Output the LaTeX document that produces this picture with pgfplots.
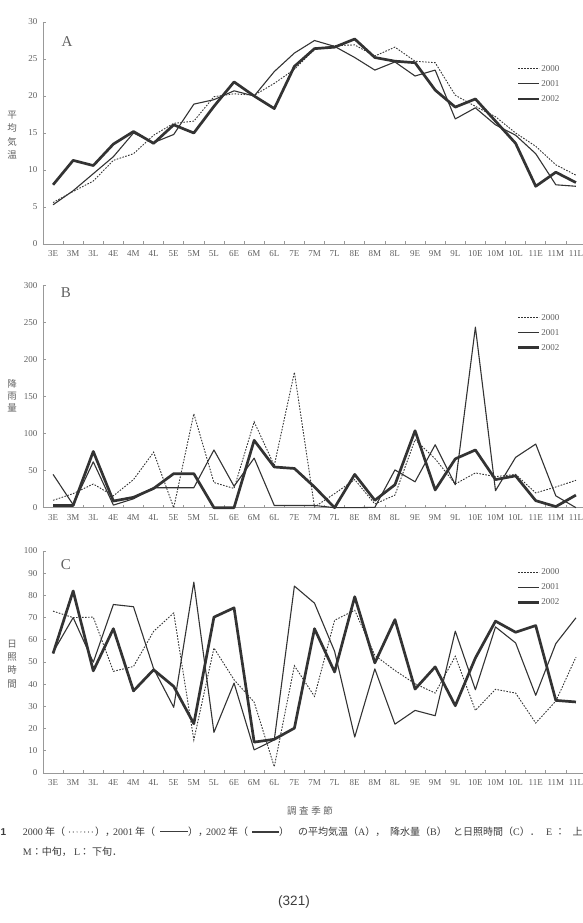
\documentclass[border=0pt]{standalone}
\usepackage{fontspec}
\setmainfont{Liberation Serif}
\newfontfamily\jp{Noto Sans CJK JP}
\newfontfamily\sans{Liberation Sans}
\usepackage{pgfplots}
\usepackage{pgfplotstable}
\pgfplotsset{compat=1.18}

\definecolor{axisgray}{HTML}{999999}
\definecolor{labelgray}{HTML}{606060}
\definecolor{linedark}{HTML}{333333}
\definecolor{captext}{HTML}{3C3C3C}

% Ten-day periods (E: early, M: middle, L: late), March to November
% Mean air temperature
\pgfplotstableread{
i  y2000 y2001 y2002
0  5.6   5.3   8.0
1  7.1   7.2   11.3
2  8.5   9.5   10.6
3  11.3  11.8  13.5
4  12.2  15.0  15.2
5  14.7  13.7  13.6
6  16.3  14.8  16.1
7  16.6  18.9  15.0
8  19.9  19.5  18.6
9  20.3  20.7  21.9
10 20.1  20.0  20.0
11 21.7  23.3  18.3
12 23.6  25.8  24.0
13 26.3  27.5  26.4
14 26.8  26.7  26.6
15 26.9  25.2  27.7
16 25.4  23.5  25.2
17 26.6  24.6  24.7
18 24.7  22.7  24.5
19 24.5  23.5  20.8
20 20.1  16.9  18.5
21 18.6  18.4  19.6
22 17.2  16.1  16.6
23 15.0  14.7  13.6
24 13.2  12.2  7.8
25 10.7  8.0   9.7
26 9.3   7.8   8.3
}\tempdata

% Rainfall
\pgfplotstableread{
i  y2000 y2001 y2002
0  10    45    3
1  19    4     3
2  32    62    76
3  16    3.5   9
4  38    12    14
5  75    27    26
6  0     27    46
7  127   27    46
8  34    78    0
9  26    29    0
10 116   67    91
11 57    3     55
12 183   3     53
13 1     3     28
14 19    0     0
15 38    0     45
16 5     0.5   10
17 17    51    31
18 92    35    104
19 66    85    24
20 32    31    66
21 47    244   78
22 42    23    38
23 45    68    43
24 20    86    9.5
25 28    16    1.5
26 37    0     17
}\raindata

% Sunshine duration
\pgfplotstableread{
i  y2000 y2001 y2002
0  72.9  54.4  53.8
1  70.0  70.0  82.0
2  70.2  49.9  46.0
3  45.8  75.9  65.0
4  48.0  74.9  37.0
5  63.8  47.0  46.5
6  72.1  29.6  39.0
7  14.9  86.0  22.2
8  56.3  18.3  70.2
9  42.0  40.5  74.4
10 31.9  10.4  13.9
11 2.8   14.9  15.2
12 48.3  84.2  20.2
13 34.5  76.5  65.0
14 68.8  54.8  45.5
15 73.3  16.2  79.4
16 53.0  46.9  49.6
17 46.2  22.0  69.1
18 40.2  28.2  37.8
19 36.0  25.8  47.8
20 52.6  63.9  30.3
21 28.2  37.5  51.8
22 37.7  65.8  68.4
23 36.0  58.6  63.4
24 22.5  35.0  66.4
25 32.4  58.3  32.7
26 52.2  69.9  32.0
}\sundata

\pgfplotsset{
  season/.style={
    scale only axis, width=543pt, height=222pt,
    anchor=south west,
    axis x line=bottom, axis y line=left,
    axis line style={-, draw=axisgray, line width=0.9pt},
    xmin=-0.5, xmax=26.5,
    xtick={-0.5,0.5,...,26.5},
    x tick label as interval,
    xticklabels={3E,3M,3L,4E,4M,4L,5E,5M,5L,6E,6M,6L,7E,7M,7L,8E,8M,8L,9E,9M,9L,10E,10M,10L,11E,11M,11L},
    tick align=inside, major tick length=3pt,
    tick style={draw=axisgray, line width=0.6pt},
    ticklabel style={font=\fontsize{9}{10}\selectfont, text=labelgray},
    /pgf/number format/assume math mode=true,
    xticklabel style={yshift=-3pt},
    yticklabel style={xshift=-2pt},
    clip=false,
    legend cell align=left,
    legend style={draw=none, fill=none, anchor=north west, inner sep=0pt,
      font=\fontsize{9}{10}\selectfont, text=labelgray,
      nodes={inner sep=1pt, text height=6pt, text depth=1pt},
      row sep=6pt},
    legend image code/.code={\draw[##1] (0pt,0pt) -- (21pt,0pt);},
  },
  s2000/.style={color=linedark, line width=0.9pt, dash pattern=on 1.6pt off 1.4pt},
  s2001/.style={color=linedark, line width=1.1pt, line join=round},
  s2002/.style={color=linedark, line width=2.7pt, line join=round},
}

\begin{document}
\begin{tikzpicture}[x=1pt,y=1pt]
\path[use as bounding box] (0,0) rectangle (583,923);

% A: mean air temperature
\begin{axis}[season, at={(43pt,679pt)},
  ymin=0, ymax=30, ytick={0,5,...,30},
  legend style={at={(0.872,0.81)}}]
  \addplot[s2000] table[x=i,y=y2000]{\tempdata};
  \addlegendentry{2000}
  \addplot[s2001] table[x=i,y=y2001]{\tempdata};
  \addlegendentry{2001}
  \addplot[s2002] table[x=i,y=y2002]{\tempdata};
  \addlegendentry{2002}
\end{axis}

% B: rainfall
\begin{axis}[season, at={(43pt,415.3pt)},
  ymin=0, ymax=300, ytick={0,50,...,300},
  legend style={at={(0.872,0.877)}}]
  \addplot[s2000] table[x=i,y=y2000]{\raindata};
  \addlegendentry{2000}
  \addplot[s2001] table[x=i,y=y2001]{\raindata};
  \addlegendentry{2001}
  \addplot[s2002] table[x=i,y=y2002]{\raindata};
  \addlegendentry{2002}
\end{axis}

% C: sunshine duration
\begin{axis}[season, at={(43pt,150pt)},
  ymin=0, ymax=100, ytick={0,10,...,100},
  legend style={at={(0.872,0.925)}}]
  \addplot[s2000] table[x=i,y=y2000]{\sundata};
  \addlegendentry{2000}
  \addplot[s2001] table[x=i,y=y2001]{\sundata};
  \addlegendentry{2001}
  \addplot[s2002] table[x=i,y=y2002]{\sundata};
  \addlegendentry{2002}
\end{axis}

% panel letters
\begin{scope}[every node/.style={text=labelgray, font=\fontsize{15}{15}\selectfont}]
  \node at (67,881) {A};
  \node at (66,630) {B};
  \node at (66,358) {C};
\end{scope}

% vertical axis titles
\begin{scope}[every node/.style={text=labelgray, align=center, inner sep=0pt}]
  \node[font=\jp\fontsize{9.5}{13.3}\selectfont] at (12,788) {平\\均\\気\\温};
  \node[font=\jp\fontsize{9.5}{12}\selectfont] at (12,527) {降\\雨\\量};
  \node[font=\jp\fontsize{9.5}{13.3}\selectfont] at (12,259) {日\\照\\時\\間};
\end{scope}

% horizontal axis title
\node[text=labelgray, font=\jp\fontsize{9.5}{10}\selectfont, inner sep=0pt]
  at (310,112) {調\hspace{2.6pt}査\hspace{2.6pt}季\hspace{2.6pt}節};

% caption, set piece by piece
\begin{scope}[every node/.style={text=captext, anchor=base west, inner sep=0pt,
    font=\fontsize{10}{12}\selectfont}]
  \node[font=\sans\bfseries\fontsize{10}{12}\selectfont] at (0.5,87.5) {1};
  \node at (22.7,87.5) {2000};
  \node[font=\jp\fontsize{10}{12}\selectfont] at (45,87.5) {年（};
  \node[font=\jp\fontsize{10}{12}\selectfont] at (95,87.5) {），};
  \node at (113,87.5) {2001};
  \node[font=\jp\fontsize{10}{12}\selectfont] at (135,87.5) {年（};
  \node[font=\jp\fontsize{10}{12}\selectfont] at (188,87.5) {），};
  \node at (206,87.5) {2002};
  \node[font=\jp\fontsize{10}{12}\selectfont] at (228,87.5) {年（};
  \node[font=\jp\fontsize{10}{12}\selectfont] at (279,87.5) {）};
  \node[font=\jp\fontsize{10}{12}\selectfont] at (298,87.5) {の平均気温};
  \node at (348,87.5) {{\jp （}A{\jp ），}};
  \node[font=\jp\fontsize{10}{12}\selectfont] at (390,87.5) {降水量};
  \node at (420,87.5) {{\jp （}B{\jp ）}};
  \node[font=\jp\fontsize{10}{12}\selectfont] at (453,87.5) {と日照時間};
  \node at (503,87.5) {{\jp （}C{\jp ）．}};
  \node at (546,87.5) {E};
  \node[font=\jp\fontsize{10}{12}\selectfont] at (555,87.5) {：};
  \node[font=\jp\fontsize{10}{12}\selectfont] at (572.5,87.5) {上};
  \node at (22.7,67.5) {M{\jp ：中旬，}};
  \node at (74,67.5) {L};
  \node[font=\jp\fontsize{10}{12}\selectfont] at (79.5,67.5) {：};
  \node[font=\jp\fontsize{10}{12}\selectfont] at (92,67.5) {下旬．};
\end{scope}
\draw[captext, line width=1.2pt, line cap=round, dash pattern=on 0pt off 3.8pt] (69.5,91) -- (95,91);
\draw[captext, line width=1pt] (160,91) -- (188,91);
\draw[captext, line width=2.6pt] (252,91) -- (279,91);

% page number
\node[text=captext, font=\sans\fontsize{13.5}{14}\selectfont, inner sep=0pt] at (294,21) {(321)};
\end{tikzpicture}
\end{document}
